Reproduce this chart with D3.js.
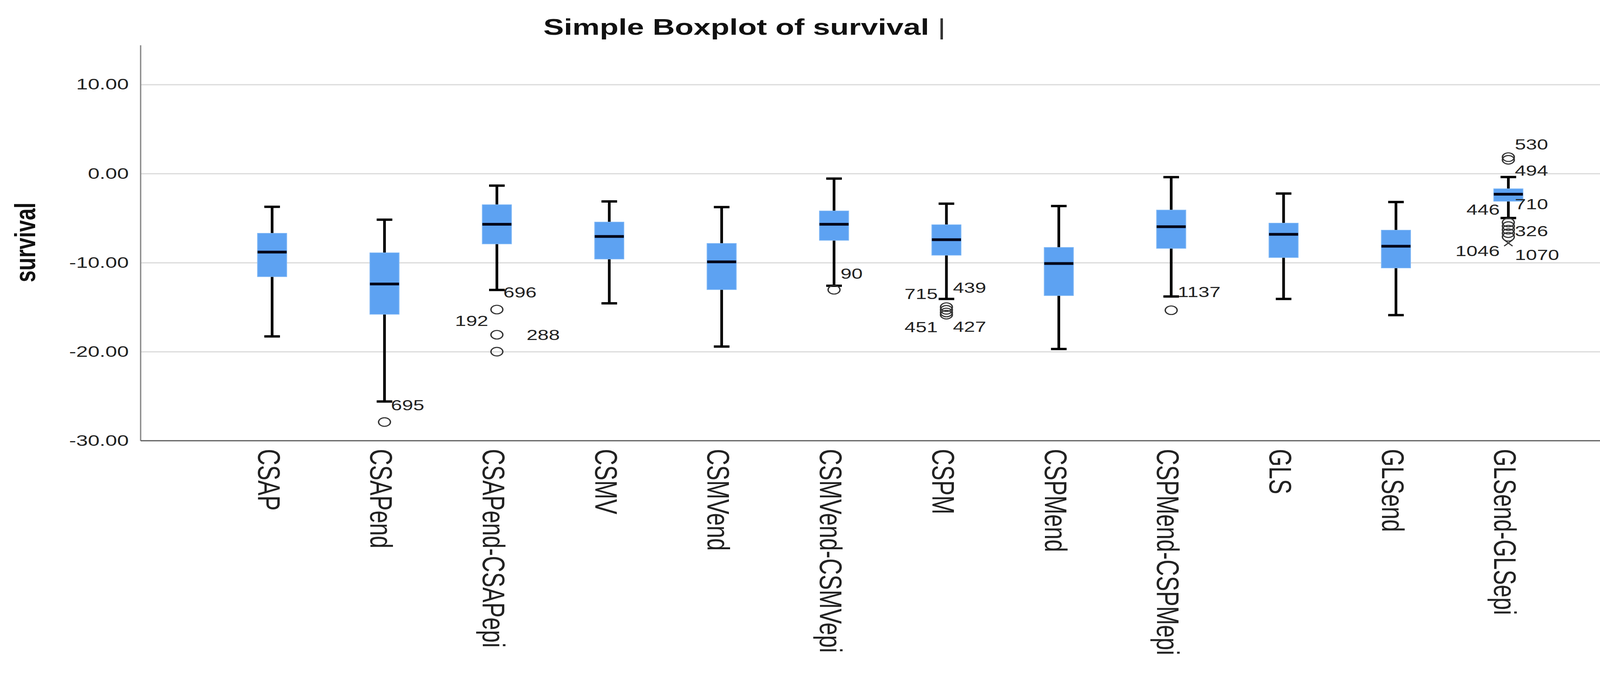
<!DOCTYPE html>
<html lang="en">
<head>
<meta charset="UTF-8">
<title>Simple Boxplot of survival</title>
<script src="https://d3js.org/d3.v7.min.js"></script>
<style>
    html, body { margin: 0; padding: 0; background: #fff; }
    svg { display: block; }
    text { font-family: "Liberation Sans", Arial, sans-serif; }
</style>
</head>
<body>
<svg id="chart"></svg>

<script>
    // values
    const categories = ["CSAP", "CSAPend", "CSAPend-CSAPepi", "CSMV", "CSMVend", "CSMVend-CSMVepi",
        "CSPM", "CSPMend", "CSPMend-CSPMepi", "GLS", "GLSend", "GLSend-GLSepi"];
    const whiskerHigh = [-3.73, -5.18, -1.36, -3.13, -3.77, -0.57, -3.38, -3.65, -0.40, -2.24, -3.20, -0.39];
    const q3 = [-6.71, -8.90, -3.50, -5.45, -7.85, -4.20, -5.75, -8.30, -4.10, -5.57, -6.36, -1.71];
    const median = [-8.82, -12.40, -5.70, -7.07, -9.92, -5.70, -7.43, -10.10, -5.97, -6.82, -8.16, -2.32];
    const q1 = [-11.58, -15.80, -7.90, -9.60, -13.03, -7.50, -9.17, -13.70, -8.40, -9.43, -10.60, -3.11];
    const whiskerLow = [-18.29, -25.60, -13.07, -14.57, -19.43, -12.60, -14.08, -19.70, -13.80, -14.08, -15.90, -5.00];
    const outlierValues = [[], [-27.9], [-15.27, -18.1, -20.0], [], [], [-13.05],
        [-15.0, -15.3, -15.6, -15.85], [], [-15.35], [], [], [1.84, 1.54, -5.5, -5.9, -6.3, -6.7, -7.1]];
    const extremeValues = [[], [], [], [], [], [], [], [], [], [], [], [-7.8]];
    const outlierLabels = [
        { cat: "CSAPend", id: "695", at: -26.0, side: "r" },
        { cat: "CSAPend-CSAPepi", id: "696", at: -13.35, side: "r" },
        { cat: "CSAPend-CSAPepi", id: "192", at: -16.55, side: "l" },
        { cat: "CSAPend-CSAPepi", id: "288", at: -18.12, side: "rr" },
        { cat: "CSMVend-CSMVepi", id: "90", at: -11.24, side: "r" },
        { cat: "CSPM", id: "715", at: -13.52, side: "l" },
        { cat: "CSPM", id: "439", at: -12.82, side: "r" },
        { cat: "CSPM", id: "451", at: -17.25, side: "l" },
        { cat: "CSPM", id: "427", at: -17.2, side: "r" },
        { cat: "CSPMend-CSPMepi", id: "1137", at: -13.3, side: "r" },
        { cat: "GLSend-GLSepi", id: "530", at: 3.27, side: "r" },
        { cat: "GLSend-GLSepi", id: "494", at: 0.33, side: "r" },
        { cat: "GLSend-GLSepi", id: "710", at: -3.44, side: "r" },
        { cat: "GLSend-GLSepi", id: "446", at: -4.05, side: "l" },
        { cat: "GLSend-GLSepi", id: "326", at: -6.46, side: "r" },
        { cat: "GLSend-GLSepi", id: "1046", at: -8.7, side: "l" },
        { cat: "GLSend-GLSepi", id: "1070", at: -9.14, side: "r" }
    ];
    const yTicks = [10, 0, -10, -20, -30];
    const yDomain = [-30, 14.4];

    // the source picture is stretched sideways, so draw in a narrower
    // viewBox and let the browser stretch it back out
    const stretch = 1.38;
    const width = 4228, height = 1724;
    const vw = width / stretch;

    const svg = d3.select("#chart")
        .attr("width", width)
        .attr("height", height)
        .attr("viewBox", `0 0 ${vw} ${height}`)
        .attr("preserveAspectRatio", "none");

    const plot = { left: 360 / stretch, right: 4198 / stretch, top: 116, bottom: 1129 };

    const x = d3.scalePoint().domain(categories).range([plot.left, plot.right]).padding(1.17);
    const y = d3.scaleLinear().domain(yDomain).range([plot.bottom, plot.top]);

    const boxW = 54, capW = 29;

    // gridlines
    svg.append("g")
        .attr("transform", `translate(${plot.left},0)`)
        .call(d3.axisLeft(y).tickValues(yTicks.slice(0, -1)).tickSize(-(plot.right - plot.left)).tickFormat(""))
        .call(g => g.select(".domain").remove())
        .call(g => g.selectAll(".tick line").attr("stroke", "#dadada").attr("stroke-width", 3));

    // y axis labels
    svg.append("g")
        .attr("transform", `translate(${plot.left},0)`)
        .call(d3.axisLeft(y).tickValues(yTicks).tickSize(0).tickPadding(22).tickFormat(d => d.toFixed(2)))
        .call(g => g.select(".domain").remove())
        .call(g => g.selectAll(".tick text")
            .attr("font-size", 39)
            .attr("fill", "#222")
            .attr("font-family", "Liberation Sans, Arial, sans-serif"));

    // axis frame
    svg.append("line")
        .attr("x1", plot.left).attr("x2", plot.left)
        .attr("y1", plot.top).attr("y2", plot.bottom)
        .attr("stroke", "#8a8a8a").attr("stroke-width", 2.5);
    svg.append("line")
        .attr("x1", plot.left).attr("x2", plot.right)
        .attr("y1", plot.bottom).attr("y2", plot.bottom)
        .attr("stroke", "#5a5a5a").attr("stroke-width", 3);

    const boxes = categories.map((c, i) => ({
        cat: c, hi: whiskerHigh[i], q3: q3[i], med: median[i], q1: q1[i], lo: whiskerLow[i],
        out: outlierValues[i], ext: extremeValues[i]
    }));

    const g = svg.append("g");

    // whiskers
    g.selectAll(".whisker").data(boxes).join("path")
        .attr("class", "whisker")
        .attr("d", d => `M${x(d.cat)},${y(d.hi)}V${y(d.q3)}M${x(d.cat)},${y(d.q1)}V${y(d.lo)}`)
        .attr("stroke", "#000").attr("stroke-width", 5).attr("fill", "none");

    g.selectAll(".cap").data(boxes).join("path")
        .attr("class", "cap")
        .attr("d", d => `M${x(d.cat) - capW / 2},${y(d.hi)}h${capW}M${x(d.cat) - capW / 2},${y(d.lo)}h${capW}`)
        .attr("stroke", "#000").attr("stroke-width", 6).attr("fill", "none");

    // boxes
    g.selectAll(".box").data(boxes).join("rect")
        .attr("class", "box")
        .attr("x", d => x(d.cat) - boxW / 2)
        .attr("width", boxW)
        .attr("y", d => y(d.q3))
        .attr("height", d => y(d.q1) - y(d.q3))
        .attr("fill", "#5da2f2")
        .attr("stroke", "#7db6f5").attr("stroke-width", 1.5);

    g.selectAll(".median").data(boxes).join("line")
        .attr("class", "median")
        .attr("x1", d => x(d.cat) - boxW / 2)
        .attr("x2", d => x(d.cat) + boxW / 2)
        .attr("y1", d => y(d.med)).attr("y2", d => y(d.med))
        .attr("stroke", "#03051a").attr("stroke-width", 7);

    // outliers
    const outs = boxes.flatMap(d => d.out.map(v => ({ cat: d.cat, v })));
    g.selectAll(".outlier").data(outs).join("circle")
        .attr("class", "outlier")
        .attr("cx", d => x(d.cat)).attr("cy", d => y(d.v))
        .attr("r", 11)
        .attr("fill", "none").attr("stroke", "#333").attr("stroke-width", 2.6);

    const exts = boxes.flatMap(d => d.ext.map(v => ({ cat: d.cat, v })));
    g.selectAll(".extreme").data(exts).join("path")
        .attr("class", "extreme")
        .attr("transform", d => `translate(${x(d.cat)},${y(d.v)})`)
        .attr("d", d3.symbol(d3.symbolTimes, 160))
        .attr("fill", "none").attr("stroke", "#333").attr("stroke-width", 2.5);

    const sideDx = { r: 12, rr: 55, l: -16 };
    g.selectAll(".olabel").data(outlierLabels).join("text")
        .attr("class", "olabel")
        .attr("x", d => x(d.cat) + sideDx[d.side])
        .attr("y", d => y(d.at))
        .attr("dy", "0.36em")
        .attr("text-anchor", d => d.side === "l" ? "end" : "start")
        .attr("font-size", 37)
        .attr("fill", "#222")
        .text(d => d.id);

    // category labels, rotated to read downwards
    svg.append("g").selectAll("text").data(categories).join("text")
        .attr("transform", d => `translate(${x(d)},${plot.bottom + 21}) rotate(90)`)
        .attr("dy", "0.45em")
        .attr("text-anchor", "start")
        .attr("font-size", 58)
        .attr("fill", "#222")
        .text(d => d);

    // titles
    const title = svg.append("text")
        .attr("x", 1391 / stretch).attr("y", 89)
        .attr("font-size", 57).attr("font-weight", "bold").attr("fill", "#111")
        .text("Simple Boxplot of survival ");
    title.append("tspan")
        .attr("font-weight", "normal")
        .attr("fill", "#333")
        .text("|");

    svg.append("text")
        .attr("transform", `translate(${64 / stretch},621) rotate(-90)`)
        .attr("dy", "0.35em")
        .attr("text-anchor", "middle")
        .attr("font-size", 54).attr("font-weight", "bold").attr("fill", "#111")
        .text("survival");
</script>
</body>
</html>
